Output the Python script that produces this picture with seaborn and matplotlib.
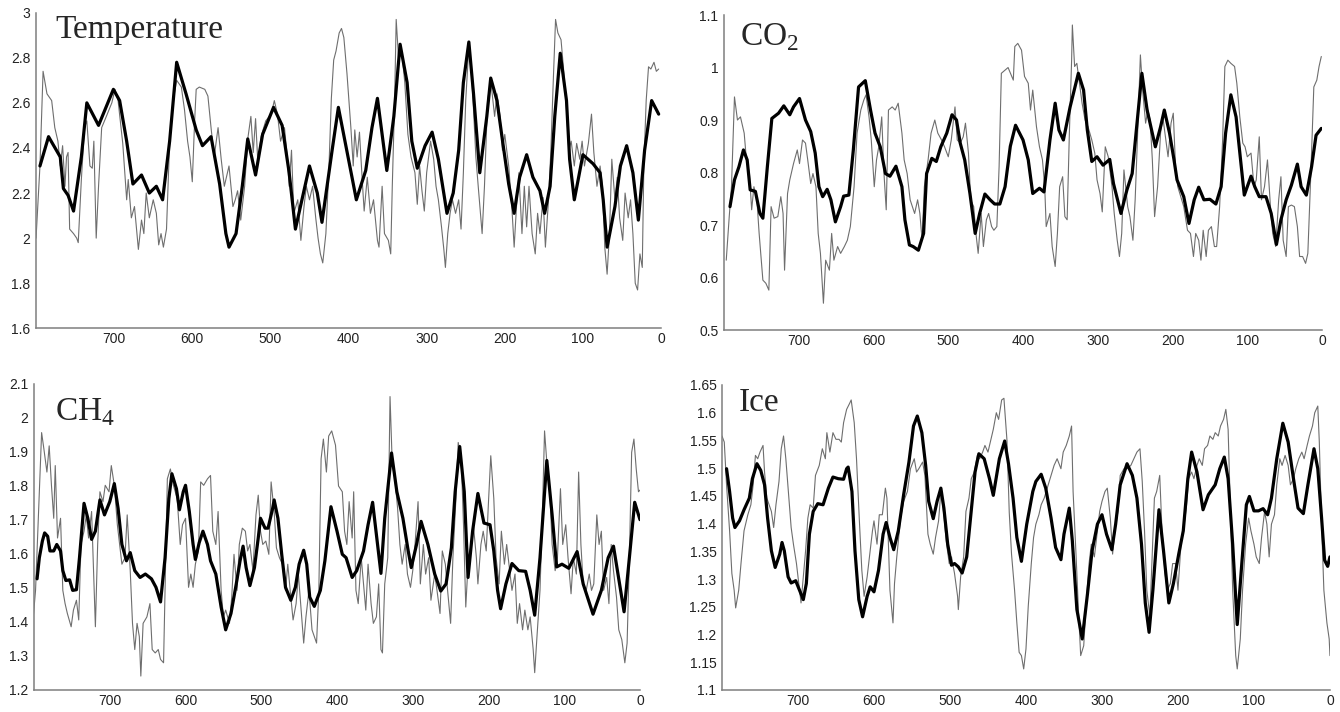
import matplotlib
matplotlib.use("Agg")
import matplotlib.pyplot as plt
import seaborn as sns
import pandas as pd
from matplotlib.ticker import FuncFormatter

# (age in kyr before present, value)
temp_raw = [(800,2.0),(795,2.32),(791,2.74),(786,2.64),(780,2.61),(776,2.49),(772,2.43),(769,2.32),(766,2.41),(763,2.23),
    (761,2.36),(759,2.38),(757,2.04),(752,2.02),(748,2.0),(746,1.98),(742,2.26),(738,2.49),(735,2.52),(731,2.32),
    (728,2.31),(726,2.43),(723,2.0),(720,2.23),(716,2.49),(710,2.54),(703,2.60),(699,2.66),(695,2.61),(689,2.42),
    (684,2.17),(682,2.26),(678,2.09),(674,2.14),(669,1.95),(665,2.08),(662,2.02),(659,2.20),(655,2.09),(650,2.17),
    (646,2.11),(643,1.97),(640,2.02),(637,1.96),(633,2.04),(629,2.43),(625,2.60),(620,2.70),(614,2.67),(610,2.57),
    (606,2.43),(603,2.36),(600,2.25),(597,2.52),(595,2.66),(591,2.67),(584,2.66),(580,2.63),(576,2.49),(572,2.36),
    (567,2.49),(563,2.35),(559,2.23),(553,2.32),(548,2.14),(545,2.17),(542,2.21),(538,2.08),(533,2.23),(529,2.44),
    (525,2.54),(522,2.38),(519,2.53),(516,2.33),(512,2.45),(506,2.52),(499,2.55),(495,2.61),(491,2.55),(487,2.43),
    (482,2.49),(479,2.38),(476,2.23),(473,2.39),(470,2.11),(465,2.17),(461,1.99),(457,2.14),(454,2.23),(450,2.17),
    (446,2.23),(442,2.09),(439,2.0),(436,1.93),(433,1.89),(429,2.02),(425,2.32),(422,2.62),(419,2.79),(416,2.83),
    (412,2.91),(409,2.93),(406,2.89),(402,2.73),(397,2.49),(394,2.32),(392,2.48),(389,2.36),(386,2.47),(382,2.23),
    (380,2.12),(376,2.27),(372,2.11),(368,2.17),(363,1.99),(361,1.96),(357,2.23),(354,2.02),(349,1.99),(346,1.93),
    (344,2.23),(341,2.61),(339,2.97),(336,2.80),(332,2.83),(328,2.69),(324,2.46),(320,2.36),(315,2.29),(312,2.15),
    (309,2.32),(306,2.21),(303,2.12),(300,2.29),(295,2.43),(291,2.35),(288,2.23),(285,2.17),(281,2.05),(278,1.95),
    (276,1.87),(273,2.02),(270,2.11),(267,2.17),(263,2.11),(259,2.17),(256,2.04),(253,2.29),(250,2.61),(246,2.85),
    (243,2.76),(240,2.57),(237,2.36),(234,2.23),(229,2.02),(226,2.23),(222,2.61),(218,2.70),(213,2.54),(210,2.64),
    (206,2.54),(203,2.39),(200,2.46),(195,2.32),(191,2.14),(188,1.96),(185,2.14),(182,2.29),(178,2.02),(175,2.23),
    (172,2.05),(169,2.23),(165,2.02),(161,1.93),(158,2.11),(155,2.02),(151,2.18),(148,1.96),(144,2.17),(141,2.39),
    (138,2.69),(135,2.97),(132,2.91),(128,2.88),(125,2.76),(121,2.57),(118,2.39),(115,2.43),(111,2.32),(108,2.42),
    (104,2.35),(101,2.43),(98,2.32),(93,2.42),(89,2.55),(86,2.38),(82,2.23),(78,2.32),(75,2.23),(72,1.96),
    (69,1.84),(66,2.02),(63,2.35),(59,2.17),(56,2.27),(53,2.09),(49,1.99),(46,2.20),(42,2.09),(39,2.17),
    (36,2.02),(33,1.80),(30,1.77),(27,1.93),(24,1.87),(22,2.32),(19,2.61),(16,2.76),(13,2.75),(9,2.78),
    (6,2.74),(3,2.75)]

temp_fit = [(795,2.32),(784,2.45),(769,2.36),(765,2.22),(759,2.19),(752,2.12),(742,2.36),(735,2.60),(720,2.50),(701,2.66),
    (693,2.61),(684,2.43),(676,2.24),(665,2.28),(655,2.20),(646,2.23),(638,2.17),(629,2.43),(620,2.78),(608,2.64),
    (595,2.48),(587,2.41),(576,2.45),(565,2.24),(557,2.02),(553,1.96),(544,2.02),(536,2.23),(529,2.44),(519,2.28),
    (510,2.46),(496,2.58),(485,2.50),(476,2.29),(468,2.04),(450,2.32),(440,2.20),(434,2.07),(421,2.39),(413,2.58),
    (404,2.42),(395,2.26),(390,2.17),(378,2.30),(370,2.49),(363,2.62),(357,2.46),(351,2.30),(342,2.54),(334,2.86),
    (325,2.69),(319,2.43),(312,2.31),(302,2.41),(293,2.47),(285,2.35),(274,2.11),(266,2.20),(259,2.39),(253,2.69),
    (246,2.87),(240,2.64),(232,2.29),(223,2.54),(218,2.71),(210,2.61),(202,2.41),(195,2.24),(188,2.11),(181,2.27),
    (172,2.37),(164,2.27),(155,2.21),(149,2.11),(142,2.23),(136,2.54),(129,2.82),(121,2.61),(117,2.35),(111,2.17),
    (106,2.26),(100,2.37),(87,2.33),(78,2.29),(74,2.17),(69,1.96),(59,2.14),(52,2.32),(44,2.41),(36,2.29),
    (29,2.08),(21,2.39),(12,2.61),(6,2.57),(3,2.55)]

co2_raw = [(797,0.633),(793,0.716),(790,0.773),(786,0.944),(782,0.900),(778,0.906),(773,0.875),(770,0.824),(766,0.798),(763,0.729),
    (760,0.773),(756,0.748),(753,0.684),(748,0.595),(744,0.589),(740,0.576),(737,0.735),(733,0.713),(728,0.716),(724,0.754),
    (721,0.722),(719,0.614),(715,0.760),(712,0.786),(707,0.817),(702,0.843),(699,0.817),(695,0.862),(691,0.856),(688,0.824),
    (684,0.779),(681,0.798),(677,0.773),(674,0.684),(671,0.646),(667,0.551),(664,0.633),(659,0.614),(656,0.684),(653,0.633),
    (648,0.659),(644,0.646),(639,0.659),(635,0.671),(631,0.697),(626,0.773),(622,0.875),(617,0.919),(613,0.938),(610,0.948),
    (606,0.906),(603,0.862),(599,0.773),(596,0.824),(593,0.849),(589,0.906),(586,0.798),(583,0.729),(580,0.919),(575,0.925),
    (571,0.919),(567,0.932),(562,0.875),(559,0.824),(555,0.798),(551,0.748),(548,0.735),(545,0.722),(541,0.748),(538,0.722),
    (535,0.671),(532,0.773),(527,0.824),(523,0.875),(518,0.900),(514,0.875),(509,0.862),(505,0.849),(500,0.830),(496,0.862),
    (491,0.925),(488,0.862),(484,0.856),(480,0.868),(477,0.894),(473,0.837),(470,0.748),(466,0.735),(463,0.684),(460,0.646),
    (456,0.722),(453,0.659),(449,0.710),(446,0.722),(442,0.697),(439,0.690),(435,0.697),(432,0.811),(429,0.989),(424,0.995),
    (420,1.000),(413,0.976),(411,1.040),(407,1.046),(402,1.033),(398,0.983),(393,0.970),(390,0.919),(387,0.957),(382,0.887),
    (378,0.849),(374,0.824),(371,0.773),(369,0.697),(364,0.722),(361,0.659),(357,0.621),(354,0.684),(351,0.773),(347,0.792),
    (344,0.716),(341,0.710),(338,0.875),(335,1.014),(334,1.081),(331,1.002),(328,1.008),(325,0.976),(321,0.932),(317,0.900),
    (313,0.887),(308,0.862),(304,0.837),(301,0.786),(297,0.760),(294,0.725),(290,0.849),(286,0.830),(281,0.773),(278,0.722),
    (274,0.671),(271,0.640),(268,0.684),(265,0.805),(260,0.735),(257,0.716),(253,0.671),(250,0.748),(247,0.862),(243,1.024),
    (240,0.957),(236,0.894),(233,0.919),(230,0.900),(227,0.824),(224,0.716),(220,0.773),(216,0.875),(213,0.906),(209,0.862),
    (206,0.830),(202,0.894),(199,0.913),(196,0.811),(193,0.773),(189,0.754),(185,0.735),(180,0.690),(176,0.684),(172,0.640),
    (169,0.684),(165,0.671),(162,0.633),(159,0.690),(155,0.640),(152,0.690),(148,0.697),(144,0.659),(141,0.659),(137,0.735),
    (133,0.862),(130,1.002),(126,1.014),(122,1.008),(117,1.002),(114,0.970),(110,0.906),(106,0.856),(103,0.849),(100,0.830),
    (95,0.837),(91,0.773),(88,0.786),(84,0.868),(81,0.748),(77,0.773),(73,0.824),(69,0.735),(66,0.684),(62,0.659),
    (58,0.748),(55,0.792),(52,0.671),(48,0.640),(45,0.735),(41,0.738),(37,0.735),(33,0.697),(30,0.640),(26,0.640),
    (22,0.627),(19,0.646),(15,0.798),(11,0.963),(7,0.976),(4,1.002),(1,1.021)]

co2_fit = [(792,0.735),(786,0.786),(780,0.811),(774,0.843),(769,0.824),(765,0.767),(758,0.764),(752,0.722),(748,0.713),(742,0.811),
    (736,0.903),(727,0.913),(720,0.927),(712,0.910),(707,0.925),(699,0.941),(691,0.900),(684,0.878),(678,0.837),(673,0.773),
    (668,0.754),(662,0.768),(657,0.748),(651,0.706),(644,0.735),(640,0.755),(633,0.757),(627,0.843),(620,0.963),(611,0.975),
    (604,0.919),(598,0.875),(591,0.849),(584,0.798),(578,0.793),(570,0.812),(562,0.773),(558,0.710),(552,0.662),(547,0.659),
    (540,0.652),(533,0.684),(529,0.798),(522,0.827),(516,0.821),(510,0.849),(502,0.875),(495,0.910),(489,0.900),(484,0.856),
    (478,0.824),(471,0.760),(464,0.684),(458,0.722),(451,0.759),(444,0.748),(438,0.740),(431,0.740),(424,0.773),(417,0.850),
    (410,0.890),(400,0.862),(393,0.824),(387,0.760),(378,0.770),(372,0.763),(364,0.862),(357,0.932),(352,0.881),(346,0.862),
    (337,0.925),(326,0.989),(319,0.957),(314,0.881),(308,0.821),(301,0.830),(293,0.814),(284,0.825),(279,0.779),(269,0.722),
    (261,0.767),(254,0.798),(248,0.887),(241,0.989),(234,0.919),(223,0.849),(216,0.887),(211,0.919),(204,0.875),(198,0.824),
    (194,0.786),(185,0.754),(178,0.703),(171,0.748),(165,0.772),(158,0.748),(150,0.749),(142,0.740),(135,0.773),(129,0.875),
    (122,0.948),(115,0.906),(109,0.824),(104,0.757),(95,0.793),(90,0.773),(84,0.754),(75,0.754),(68,0.722),(61,0.663),
    (55,0.710),(48,0.748),(41,0.776),(33,0.816),(28,0.773),(21,0.757),(14,0.811),(8,0.871),(1,0.884)]

ch4_raw = [(801,1.415),(798,1.493),(793,1.783),(790,1.957),(787,1.909),(783,1.841),(780,1.918),(777,1.802),(774,1.705),(772,1.860),
    (769,1.647),(765,1.705),(762,1.493),(759,1.454),(756,1.425),(751,1.386),(748,1.435),(744,1.464),(741,1.406),(738,1.628),
    (734,1.667),(731,1.715),(728,1.647),(724,1.725),(721,1.522),(719,1.386),(716,1.628),(713,1.783),(709,1.754),(706,1.802),
    (701,1.783),(698,1.860),(694,1.802),(690,1.686),(687,1.628),(684,1.570),(680,1.589),(677,1.715),(673,1.551),(670,1.396),
    (667,1.319),(664,1.396),(661,1.357),(659,1.241),(656,1.396),(651,1.415),(647,1.454),(644,1.319),(640,1.309),(636,1.319),
    (633,1.290),(629,1.280),(627,1.493),(624,1.821),(620,1.850),(616,1.802),(611,1.763),(607,1.628),(604,1.686),(600,1.705),
    (596,1.502),(593,1.541),(590,1.502),(587,1.570),(583,1.609),(580,1.812),(576,1.802),(571,1.821),(567,1.831),(564,1.667),
    (560,1.628),(557,1.725),(553,1.493),(550,1.415),(547,1.435),(542,1.396),(539,1.473),(536,1.599),(532,1.493),(529,1.628),
    (525,1.676),(521,1.667),(518,1.609),(515,1.628),(511,1.551),(507,1.715),(504,1.773),(501,1.667),(498,1.628),(494,1.638),
    (490,1.599),(487,1.812),(483,1.725),(480,1.618),(476,1.589),(472,1.570),(468,1.493),(465,1.570),(461,1.473),(458,1.406),
    (454,1.454),(451,1.541),(447,1.425),(444,1.338),(441,1.415),(437,1.493),(433,1.377),(430,1.357),(427,1.338),(424,1.493),
    (421,1.880),(418,1.938),(414,1.841),(411,1.947),(407,1.962),(402,1.920),(398,1.800),(393,1.783),(390,1.667),(387,1.628),
    (384,1.754),(380,1.647),(378,1.783),(375,1.493),(372,1.454),(368,1.589),(365,1.512),(362,1.435),(359,1.570),(355,1.454),
    (352,1.396),(348,1.415),(345,1.512),(342,1.319),(340,1.309),(337,1.512),(333,1.589),(330,2.063),(327,1.860),(324,1.831),
    (320,1.734),(317,1.628),(314,1.570),(310,1.628),(307,1.541),(303,1.502),(300,1.551),(297,1.628),(293,1.754),(290,1.512),
    (286,1.628),(283,1.541),(279,1.589),(276,1.464),(271,1.541),(268,1.493),(264,1.425),(261,1.609),(257,1.570),(254,1.493),
    (250,1.396),(247,1.589),(243,1.763),(240,1.928),(236,1.880),(233,1.686),(230,1.444),(227,1.570),(223,1.628),(220,1.686),
    (216,1.589),(214,1.512),(210,1.628),(207,1.667),(203,1.609),(200,1.754),(197,1.889),(193,1.763),(190,1.589),(186,1.512),
    (183,1.667),(179,1.570),(176,1.628),(172,1.551),(169,1.493),(165,1.541),(162,1.396),(159,1.454),(155,1.377),(152,1.435),
    (148,1.377),(145,1.415),(141,1.319),(139,1.251),(136,1.357),(132,1.493),(129,1.705),(126,1.962),(123,1.870),(119,1.783),
    (116,1.628),(112,1.551),(109,1.589),(105,1.792),(102,1.628),(98,1.686),(95,1.589),(91,1.483),(88,1.589),(84,1.541),
    (81,1.841),(78,1.628),(75,1.512),(71,1.493),(67,1.541),(64,1.493),(61,1.512),(57,1.715),(54,1.628),(51,1.667),
    (48,1.493),(44,1.531),(41,1.454),(38,1.628),(35,1.551),(31,1.473),(28,1.377),(24,1.348),(20,1.280),(17,1.338),
    (14,1.589),(11,1.899),(8,1.938),(5,1.851),(2,1.783),(0,1.788)]

ch4_fit = [(796,1.527),(793,1.589),(789,1.638),(786,1.662),(782,1.652),(779,1.609),(774,1.609),(770,1.628),(765,1.609),(762,1.551),
    (758,1.522),(753,1.524),(749,1.493),(744,1.495),(740,1.589),(734,1.749),(729,1.705),(724,1.643),(719,1.667),(713,1.759),
    (707,1.715),(700,1.754),(694,1.807),(689,1.734),(684,1.628),(678,1.580),(673,1.604),(667,1.551),(660,1.531),(653,1.541),
    (645,1.527),(639,1.502),(633,1.459),(627,1.589),(622,1.763),(618,1.836),(612,1.792),(608,1.730),(603,1.783),(600,1.802),
    (595,1.725),(590,1.628),(587,1.584),(582,1.633),(577,1.667),(571,1.628),(567,1.580),(560,1.541),(553,1.444),(547,1.377),
    (540,1.425),(533,1.512),(528,1.580),(524,1.623),(520,1.560),(515,1.507),(509,1.560),(504,1.647),(501,1.705),(495,1.676),
    (491,1.676),(485,1.734),(483,1.759),(478,1.705),(473,1.599),(468,1.502),(461,1.464),(455,1.502),(450,1.570),(444,1.611),
    (440,1.570),(436,1.473),(430,1.446),(422,1.493),(416,1.580),(408,1.739),(400,1.667),(393,1.599),(388,1.589),(380,1.531),
    (374,1.551),(365,1.609),(359,1.686),(353,1.752),(348,1.657),(342,1.543),(337,1.705),(328,1.897),(321,1.783),(313,1.705),
    (306,1.609),(302,1.560),(295,1.628),(289,1.696),(280,1.628),(271,1.541),(263,1.491),(256,1.512),(249,1.618),(244,1.783),
    (238,1.916),(232,1.783),(227,1.531),(221,1.667),(214,1.778),(206,1.691),(198,1.686),(193,1.609),(188,1.493),(184,1.439),
    (177,1.512),(169,1.572),(160,1.551),(151,1.549),(145,1.493),(139,1.420),(132,1.589),(123,1.875),(116,1.715),(110,1.562),
    (103,1.570),(94,1.558),(83,1.607),(75,1.512),(62,1.423),(51,1.493),(42,1.589),(35,1.623),(29,1.541),(21,1.430),
    (14,1.589),(7,1.752),(0,1.701)]

ice_raw = [(800,1.558),(797,1.547),(794,1.470),(790,1.387),(787,1.310),(784,1.280),(782,1.248),(778,1.280),(775,1.328),(771,1.387),
    (766,1.416),(762,1.434),(759,1.470),(756,1.523),(753,1.517),(750,1.529),(746,1.541),(744,1.493),(741,1.446),(738,1.434),
    (735,1.422),(732,1.393),(729,1.434),(725,1.476),(722,1.535),(719,1.558),(716,1.517),(712,1.446),(709,1.393),(706,1.363),
    (702,1.328),(699,1.292),(696,1.257),(693,1.304),(690,1.351),(687,1.410),(684,1.434),(680,1.428),(677,1.487),(672,1.505),
    (668,1.535),(664,1.517),(662,1.564),(658,1.529),(654,1.564),(650,1.552),(646,1.552),(643,1.547),(640,1.582),(636,1.606),
    (632,1.617),(630,1.623),(626,1.582),(623,1.517),(619,1.399),(616,1.316),(613,1.269),(609,1.304),(606,1.340),(602,1.387),
    (600,1.405),(596,1.363),(593,1.416),(589,1.416),(585,1.464),(583,1.446),(581,1.363),(579,1.280),(575,1.221),(573,1.292),
    (570,1.340),(565,1.410),(561,1.440),(556,1.458),(552,1.499),(547,1.517),(544,1.493),(541,1.499),(536,1.511),(533,1.487),
    (529,1.381),(526,1.363),(522,1.345),(519,1.375),(515,1.405),(512,1.458),(508,1.416),(505,1.369),(501,1.328),(498,1.340),
    (494,1.310),(490,1.269),(489,1.245),(486,1.304),(482,1.340),(479,1.422),(475,1.446),(472,1.481),(468,1.493),(464,1.523),
    (461,1.517),(457,1.529),(454,1.541),(450,1.529),(446,1.552),(443,1.570),(439,1.600),(436,1.588),(432,1.623),(429,1.626),
    (425,1.550),(422,1.420),(419,1.345),(415,1.280),(412,1.221),(409,1.168),(406,1.162),(403,1.138),(400,1.174),(397,1.251),
    (393,1.328),(390,1.375),(387,1.399),(383,1.416),(380,1.434),(376,1.446),(372,1.464),(367,1.487),(363,1.505),(359,1.517),
    (354,1.499),(351,1.529),(347,1.541),(343,1.558),(340,1.576),(338,1.458),(334,1.340),(331,1.245),(328,1.162),(324,1.180),
    (321,1.251),(317,1.328),(314,1.363),(310,1.340),(307,1.375),(303,1.422),(300,1.440),(296,1.458),(293,1.464),(289,1.410),
    (286,1.345),(283,1.387),(279,1.422),(276,1.487),(271,1.499),(267,1.499),(262,1.505),(258,1.517),(254,1.529),(250,1.535),
    (247,1.476),(244,1.387),(241,1.280),(237,1.233),(234,1.340),(231,1.446),(228,1.458),(224,1.487),(221,1.387),(217,1.310),
    (214,1.280),(210,1.292),(207,1.328),(203,1.328),(200,1.280),(196,1.363),(193,1.387),(189,1.428),(186,1.481),(182,1.493),
    (179,1.481),(175,1.505),(172,1.517),(168,1.505),(165,1.535),(161,1.541),(158,1.558),(154,1.552),(151,1.564),(147,1.558),
    (144,1.576),(140,1.588),(137,1.606),(134,1.570),(131,1.428),(128,1.280),(124,1.162),(122,1.138),(118,1.192),(115,1.280),
    (111,1.363),(107,1.410),(104,1.387),(100,1.363),(97,1.340),(93,1.328),(90,1.375),(86,1.422),(83,1.399),(80,1.340),
    (77,1.399),(73,1.416),(70,1.470),(66,1.517),(63,1.505),(59,1.523),(55,1.505),(52,1.470),(48,1.481),(45,1.499),
    (41,1.517),(37,1.529),(34,1.517),(30,1.541),(27,1.558),(23,1.576),(20,1.600),(16,1.612),(14,1.547),(11,1.399),
    (8,1.280),(4,1.221),(1,1.192),(0,1.162)]

ice_fit = [(794,1.499),(790,1.458),(786,1.410),(783,1.393),(777,1.405),(771,1.425),(764,1.446),(760,1.481),(754,1.508),(749,1.496),
    (744,1.470),(740,1.410),(735,1.351),(730,1.321),(724,1.345),(721,1.366),(718,1.351),(713,1.304),(709,1.293),(703,1.297),
    (698,1.280),(693,1.263),(689,1.292),(685,1.381),(680,1.422),(674,1.436),(667,1.434),(660,1.464),(654,1.484),(647,1.481),
    (640,1.480),(636,1.499),(634,1.502),(629,1.458),(625,1.351),(620,1.263),(615,1.232),(609,1.269),(605,1.286),(600,1.277),
    (594,1.316),(588,1.381),(584,1.402),(579,1.375),(574,1.353),(568,1.387),(561,1.452),(554,1.511),(548,1.576),(543,1.594),
    (537,1.564),(532,1.505),(528,1.440),(522,1.409),(517,1.440),(512,1.464),(508,1.428),(503,1.363),(498,1.325),(494,1.328),
    (489,1.322),(484,1.311),(478,1.340),(473,1.410),(467,1.493),(462,1.526),(455,1.517),(448,1.481),(443,1.451),(435,1.517),
    (428,1.549),(423,1.508),(417,1.446),(412,1.375),(406,1.332),(399,1.399),(391,1.458),(387,1.476),(380,1.489),(374,1.464),
    (367,1.410),(361,1.357),(354,1.335),(350,1.381),(343,1.428),(339,1.369),(333,1.245),(326,1.192),(319,1.274),(313,1.351),
    (306,1.399),(300,1.416),(294,1.381),(287,1.353),(282,1.399),(276,1.470),(267,1.508),(260,1.487),(254,1.446),(248,1.363),
    (243,1.257),(238,1.204),(233,1.280),(225,1.425),(219,1.351),(212,1.257),(206,1.292),(199,1.345),(193,1.387),(187,1.481),
    (182,1.529),(175,1.493),(167,1.425),(160,1.452),(151,1.470),(145,1.499),(139,1.520),(134,1.481),(128,1.363),(122,1.218),
    (116,1.328),(110,1.434),(106,1.449),(100,1.423),(94,1.423),(88,1.427),(82,1.416),(77,1.446),(70,1.517),(62,1.581),
    (55,1.547),(48,1.481),(42,1.428),(35,1.418),(29,1.470),(21,1.535),(16,1.499),(11,1.410),(7,1.334),(3,1.323),
    (0,1.340)]

x_ticks = [700, 600, 500, 400, 300, 200, 100, 0]
temp_yticks = [1.6, 1.8, 2.0, 2.2, 2.4, 2.6, 2.8, 3.0]
co2_yticks = [0.5, 0.6, 0.7, 0.8, 0.9, 1.0, 1.1]
ch4_yticks = [1.2, 1.3, 1.4, 1.5, 1.6, 1.7, 1.8, 1.9, 2.0, 2.1]
ice_yticks = [1.1, 1.15, 1.2, 1.25, 1.3, 1.35, 1.4, 1.45, 1.5, 1.55, 1.6, 1.65]

sns.set_style('white')
plt.rcParams['font.family'] = ['Liberation Sans', 'DejaVu Sans']
plt.rcParams['mathtext.fontset'] = 'custom'
plt.rcParams['mathtext.rm'] = 'Liberation Serif'

panels = [
    # raw, fit, yticks, title, axes rect, title position
    (temp_raw, temp_fit, temp_yticks, 'Temperature', [0.0269, 0.5389, 0.4664, 0.4433], (0.041, 0.947)),
    (co2_raw, co2_fit, co2_yticks, r'CO$_\mathregular{2}$', [0.5403, 0.5365, 0.4463, 0.4424], (0.552, 0.937)),
    (ch4_raw, ch4_fit, ch4_yticks, r'CH$_\mathregular{4}$', [0.0254, 0.0309, 0.4522, 0.4298], (0.041, 0.410)),
    (ice_raw, ice_fit, ice_yticks, 'Ice', [0.5388, 0.0309, 0.4537, 0.4284], (0.551, 0.423)),
]

fig = plt.figure(figsize=(13.4, 7.12), dpi=100)

for raw, fit, yt, title, rect, tpos in panels:
    ax = fig.add_axes(rect)
    raw_df = pd.DataFrame(raw, columns=['age', 'value'])
    fit_df = pd.DataFrame(fit, columns=['age', 'value'])
    sns.lineplot(data=raw_df, x='age', y='value', ax=ax, color='#6e6e6e',
                 linewidth=0.8, estimator=None, sort=False)
    sns.lineplot(data=fit_df, x='age', y='value', ax=ax, color='black',
                 linewidth=2.3, estimator=None, sort=False,
                 solid_joinstyle='round', solid_capstyle='round')
    ax.set_xlim(800, 0)
    ax.set_ylim(yt[0], yt[-1])
    ax.set_xticks(x_ticks)
    ax.set_yticks(yt)
    ax.yaxis.set_major_formatter(FuncFormatter(lambda v, _: f'{round(v, 2):g}'))
    ax.set_xlabel('')
    ax.set_ylabel('')
    for s in ['top', 'right']:
        ax.spines[s].set_visible(False)
    for s in ['left', 'bottom']:
        ax.spines[s].set_color('#7f7f7f')
        ax.spines[s].set_linewidth(1.1)
    ax.tick_params(axis='x', direction='in', length=3, color='#7f7f7f',
                   labelsize=10, labelcolor='#222222', pad=3)
    ax.tick_params(axis='y', length=0, labelsize=10, labelcolor='#222222', pad=4)
    fig.text(tpos[0], tpos[1], title, fontsize=24, family='Liberation Serif',
             va='baseline', ha='left')

fig.savefig('out.png', dpi=100)
